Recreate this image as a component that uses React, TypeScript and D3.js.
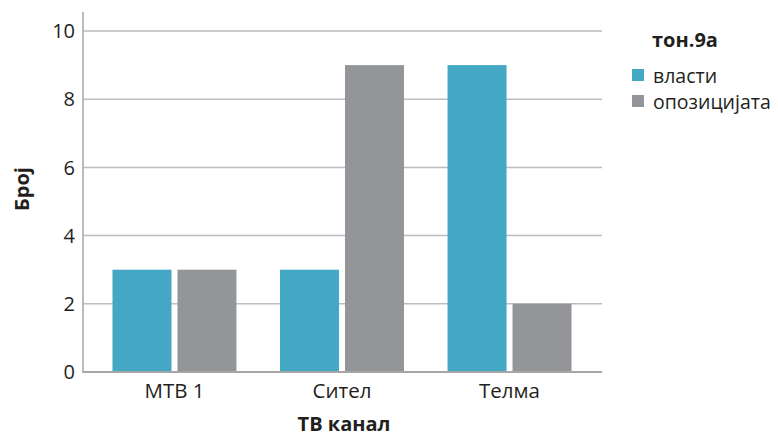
import React from 'react';
import * as d3 from 'd3';

const categories = ['МТВ 1', 'Ситeл'.replace('e', 'е'), 'Телма'];
const seriesNames = ['власти', 'опозицијата'];
const vlasti = [3, 3, 9];
const opozicija = [3, 9, 2];
const yTicks = [0, 2, 4, 6, 8, 10];

const colors = ['#44a7c4', '#939598'];
const font = '"Open Sans", "Noto Sans", sans-serif';
const textColor = '#231f20';

const App = () => {
  const width = 778;
  const height = 437;
  const left = 83;
  const right = 601;
  const top = 31;
  const bottom = 372;

  const x = d3.scaleBand<string>()
    .domain(categories)
    .range([left, right])
    .paddingInner(0.26)
    .paddingOuter(0.176);

  const xs = d3.scaleBand<string>()
    .domain(seriesNames)
    .range([0, x.bandwidth()])
    .paddingInner(0.092);

  const y = d3.scaleLinear()
    .domain([0, 10])
    .range([bottom, top]);

  const values = [vlasti, opozicija];

  return (
    <svg width={width} height={height} style={{ position: 'absolute', left: 0, top: 0 }}>
      {/* gridlines */}
      {yTicks.filter(t => t > 0).map(t => (
        <line key={t} x1={left} x2={right + 1} y1={y(t)} y2={y(t)} stroke="#bdbdbd" strokeWidth={1.5} />
      ))}

      {/* bars */}
      {categories.map((c, i) => (
        <g key={c} transform={`translate(${x(c)},0)`}>
          {seriesNames.map((s, j) => (
            <rect
              key={s}
              x={xs(s)}
              y={y(values[j][i])}
              width={xs.bandwidth()}
              height={bottom - y(values[j][i])}
              fill={colors[j]}
            />
          ))}
        </g>
      ))}

      {/* axes */}
      <line x1={left} x2={left} y1={12} y2={bottom + 1} stroke="#a6a6a6" strokeWidth={1.5} />
      <line x1={left} x2={right + 1} y1={bottom} y2={bottom} stroke="#a6a6a6" strokeWidth={2} />

      {yTicks.map(t => (
        <text key={t} x={75} y={y(t)} dy="0.36em" textAnchor="end" fontFamily={font} fontSize={20} fill={textColor}>
          {t}
        </text>
      ))}

      {categories.map(c => (
        <text key={c} x={(x(c) ?? 0) + x.bandwidth() / 2} y={398} textAnchor="middle" fontFamily={font} fontSize={20.5} fill={textColor}>
          {c}
        </text>
      ))}

      <text x={(left + right) / 2 + 2} y={431} textAnchor="middle" fontFamily={font} fontSize={20} fontWeight="bold" fill={textColor}>
        ТВ канал
      </text>
      <text
        transform={`translate(29,189) rotate(-90)`}
        textAnchor="middle"
        fontFamily={font}
        fontSize={20}
        fontWeight="bold"
        fill={textColor}
      >
        Број
      </text>

      {/* legend */}
      <text x={652} y={47} fontFamily={font} fontSize={20} fontWeight="bold" fill={textColor}>тон.9а</text>
      {seriesNames.map((s, j) => (
        <g key={s} transform={`translate(632,${69 + j * 26})`}>
          <rect x={0} y={0} width={12} height={12} fill={colors[j]} />
          <text x={21} y={14} fontFamily={font} fontSize={19.5} fill={textColor}>{s}</text>
        </g>
      ))}
    </svg>
  );
};

export default App;
